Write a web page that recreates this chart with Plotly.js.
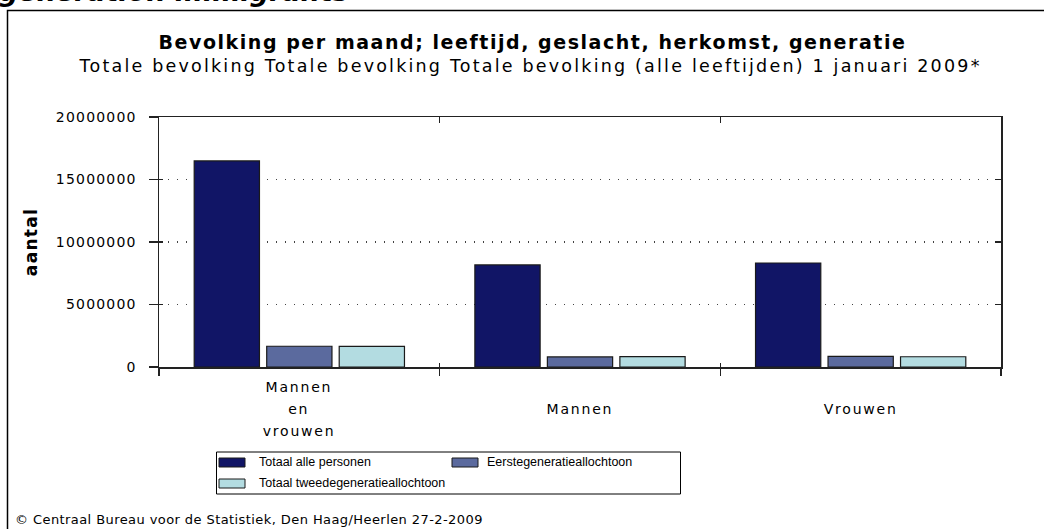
<!DOCTYPE html>
<html>
<head>
<meta charset="utf-8">
<script src="https://cdn.plot.ly/plotly-3.0.1.min.js"></script>
<style>
html,body{margin:0;padding:0;background:#fff;}
#chart{width:1044px;height:529px;}
.ytick text{letter-spacing:1.2px;}
.ytitle{letter-spacing:1.3px;}
</style>
</head>
<body>
<div id="chart"></div>
<script>
const categories = ["Mannen en vrouwen", "Mannen", "Vrouwen"];
const categoryLabelLines = [["Mannen", "en", "vrouwen"], ["Mannen"], ["Vrouwen"]];
const seriesNames = ["Totaal alle personen", "Eerstegeneratieallochtoon", "Totaal tweedegeneratieallochtoon"];
const totaalAllePersonen = [16485787, 8166000, 8320000];
const eersteGeneratie = [1660000, 810000, 850000];
const tweedeGeneratie = [1650000, 830000, 820000];
const yTickVals = [0, 5000000, 10000000, 15000000, 20000000];
const yTickText = ["0", "5000000", "10000000", "15000000", "20000000"];
const colors = ["#111566", "#5b6a9e", "#b3dce1"];
const seriesValues = [totaalAllePersonen, eersteGeneratie, tweedeGeneratie];

const L = 159, R = 1001, T = 117, B = 367;
const W = R - L, H = B - T;
const px = x => (x - L) / W;
const py = y => (B - y) / H;

const traces = seriesValues.map((vals, i) => ({
  type: 'bar',
  name: seriesNames[i],
  x: categories,
  y: vals,
  marker: {color: colors[i], line: {color: '#1a1a1a', width: 1.2}},
  showlegend: false,
  hoverinfo: 'x+y+name'
}));
// empty helper traces so the tick-only overlay axes are drawn
traces.push({type: 'scatter', mode: 'markers', x: [], y: [], xaxis: 'x2', yaxis: 'y2', showlegend: false, hoverinfo: 'skip'});
traces.push({type: 'scatter', mode: 'markers', x: [], y: [], xaxis: 'x3', yaxis: 'y3', showlegend: false, hoverinfo: 'skip'});

const shapes = [];
const annotations = [];
const spacing = [];
function addAnn(a, sp) { annotations.push(a); spacing.push(sp || 0); }

// outer frame
shapes.push({type: 'rect', xref: 'paper', yref: 'paper', x0: px(7.5), x1: px(1070), y0: py(10.5), y1: py(560),
  line: {color: '#000', width: 1.5}, fillcolor: 'rgba(0,0,0,0)', layer: 'below'});

// legend box
shapes.push({type: 'rect', xref: 'paper', yref: 'paper', x0: px(216.5), x1: px(680.5), y0: py(452), y1: py(494),
  line: {color: '#000', width: 1}, fillcolor: 'rgba(0,0,0,0)'});
const legPos = [[219, 458, 257], [452, 458, 485], [219, 479, 257]];
seriesNames.forEach((n, i) => {
  const [sx, sy, tx] = legPos[i];
  shapes.push({type: 'rect', xref: 'paper', yref: 'paper', x0: px(sx), x1: px(sx + 26), y0: py(sy), y1: py(sy + 9),
    line: {color: '#1a1a1a', width: 1}, fillcolor: colors[i]});
  addAnn({xref: 'paper', yref: 'paper', x: px(tx), y: py(sy + 4), xanchor: 'left', yanchor: 'middle', align: 'left',
    text: n, showarrow: false, font: {family: 'Liberation Sans, Arial, sans-serif', size: 12.5, color: '#000'}}, 0);
});

// category labels (one line each, 22px line pitch)
const maxLines = Math.max(...categoryLabelLines.map(l => l.length));
categoryLabelLines.forEach((lines, ci) => {
  const off = (maxLines - lines.length) / 2;
  lines.forEach((ln, k) => {
    addAnn({xref: 'x', yref: 'paper', x: categories[ci], y: py(387 + 22 * (k + off)), xanchor: 'center', yanchor: 'middle',
      text: ln, showarrow: false, font: {family: 'DejaVu Sans, sans-serif', size: 14, color: '#000'}}, 1.8);
  });
});

// headings
addAnn({xref: 'paper', yref: 'paper', x: px(-3), y: py(9), xanchor: 'left', yanchor: 'bottom', align: 'left',
  text: '<b><i>generation immigrants</i></b>', showarrow: false,
  font: {family: 'DejaVu Sans, sans-serif', size: 27, color: '#000'}}, 0);
addAnn({xref: 'paper', yref: 'paper', x: px(532), y: py(42), xanchor: 'center', yanchor: 'middle',
  text: '<b>Bevolking per maand; leeftijd, geslacht, herkomst, generatie</b>', showarrow: false,
  font: {family: 'DejaVu Sans, sans-serif', size: 19, color: '#000'}}, 1.55);
addAnn({xref: 'paper', yref: 'paper', x: px(530), y: py(66), xanchor: 'center', yanchor: 'middle',
  text: 'Totale bevolking Totale bevolking Totale bevolking (alle leeftijden) 1 januari 2009*', showarrow: false,
  font: {family: 'DejaVu Sans, sans-serif', size: 17.5, color: '#000'}}, 2.2);
addAnn({xref: 'paper', yref: 'paper', x: px(13), y: py(519), xanchor: 'left', yanchor: 'middle', align: 'left',
  text: '© Centraal Bureau voor de Statistiek, Den Haag/Heerlen 27-2-2009', showarrow: false,
  font: {family: 'DejaVu Sans, sans-serif', size: 13, color: '#000'}}, 0.42);

// per-annotation letter spacing
const css = spacing.map((s, i) => s ? `g.annotation[data-index="${i}"] text{letter-spacing:${s}px;}` : '').join('\n');
const st = document.createElement('style');
st.textContent = css;
document.head.appendChild(st);

const yRange = [0, 20000000];
const catRange = [-0.5, categories.length - 0.5];
const boundaries = categories.map((c, i) => i - 0.5).concat([categories.length - 0.5]);

const tickOnly = {
  tickmode: 'array', ticks: 'inside', tickwidth: 1.5, tickcolor: '#222', showticklabels: false,
  showgrid: false, zeroline: false, showline: false, fixedrange: true
};

const layout = {
  width: 1044, height: 529,
  margin: {l: L, r: 1044 - R, t: T, b: 529 - B, pad: 0},
  paper_bgcolor: '#fff', plot_bgcolor: '#fff',
  barmode: 'group', bargap: 0.225, bargroupgap: 0.1,
  font: {family: 'DejaVu Sans, sans-serif', size: 12, color: '#000'},
  xaxis: {
    type: 'category', showticklabels: false,
    showline: true, linecolor: '#222', linewidth: 1.5, mirror: true,
    ticks: 'outside', tickson: 'boundaries', ticklen: 7, tickcolor: '#222', tickwidth: 1.5,
    showgrid: false, fixedrange: true
  },
  xaxis2: Object.assign({}, tickOnly, {overlaying: 'x', anchor: 'y2', side: 'bottom', range: catRange, tickvals: boundaries, ticklen: 4}),
  xaxis3: Object.assign({}, tickOnly, {overlaying: 'x', anchor: 'y3', side: 'top', range: catRange, tickvals: boundaries.slice(1, -1), ticklen: 6}),
  yaxis: {
    range: yRange, tickvals: yTickVals, ticktext: yTickText,
    showline: true, linecolor: '#222', linewidth: 1.5, mirror: true,
    ticks: 'outside', ticklen: 9, tickcolor: '#222', tickwidth: 1.5,
    ticklabelstandoff: 9,
    showgrid: true, gridcolor: '#444', griddash: '1px,8px', gridwidth: 1.2,
    zeroline: false,
    tickfont: {family: 'DejaVu Sans, sans-serif', size: 14, color: '#000'},
    title: {text: '<b>aantal</b>', font: {family: 'DejaVu Sans, sans-serif', size: 17, color: '#000'}, standoff: 14},
    fixedrange: true
  },
  yaxis2: Object.assign({}, tickOnly, {overlaying: 'y', anchor: 'x2', side: 'left', range: yRange, tickvals: yTickVals, ticklen: 4}),
  yaxis3: Object.assign({}, tickOnly, {overlaying: 'y', anchor: 'x3', side: 'right', range: yRange, tickvals: yTickVals.slice(1, -1), ticklen: 6}),
  shapes: shapes,
  annotations: annotations,
  showlegend: false
};

Plotly.newPlot('chart', traces, layout, {displayModeBar: false, staticPlot: true});
</script>
</body>
</html>
